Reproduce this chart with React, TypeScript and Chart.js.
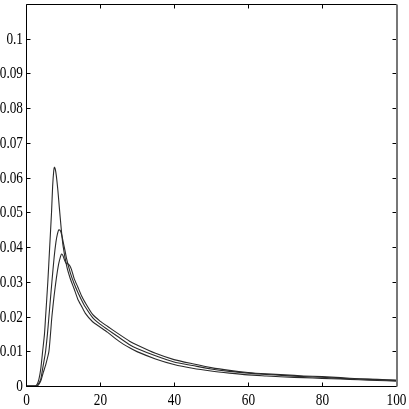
import React, { useEffect, useRef } from "react";
import { Chart, registerables } from "chart.js";

Chart.register(...registerables);

const xA = [0, 2.5, 3, 3.5, 4, 4.5, 5, 5.3, 5.9, 6.4, 6.9, 7.2, 7.5, 7.7, 7.9, 8.2, 8.6, 9, 9.5, 10, 11, 12, 13, 14, 15, 16, 18, 20, 22, 25, 28, 30, 35, 40, 45, 50, 55, 60, 65, 70, 75, 80, 85, 90, 95, 100];
const yA = [0, 0, 0.0005, 0.002, 0.005, 0.01, 0.015, 0.02, 0.03, 0.04, 0.05, 0.0575, 0.062, 0.063, 0.0625, 0.0605, 0.0565, 0.0515, 0.0455, 0.0405, 0.0345, 0.0308, 0.028, 0.025, 0.023, 0.021, 0.0185, 0.017, 0.0155, 0.013, 0.011, 0.0099, 0.0078, 0.0062, 0.0051, 0.0043, 0.0037, 0.0032, 0.0029, 0.0026, 0.0024, 0.0022, 0.002, 0.0018, 0.0016, 0.0014];

const xB = [0, 2.8, 3.3, 4, 4.5, 5, 5.3, 5.8, 6.2, 7, 7.6, 8.1, 8.5, 8.9, 9.3, 9.7, 10.1, 10.5, 11, 12, 13, 14, 15, 16, 18, 20, 22, 25, 28, 30, 35, 40, 45, 50, 55, 60, 65, 70, 75, 80, 85, 90, 95, 100];
const yB = [0, 0, 0.0005, 0.002, 0.005, 0.008, 0.01, 0.015, 0.02, 0.03, 0.037, 0.0415, 0.0438, 0.045, 0.0447, 0.0433, 0.0412, 0.0392, 0.0365, 0.0325, 0.0295, 0.027, 0.0248, 0.0228, 0.0197, 0.0178, 0.0163, 0.0141, 0.0119, 0.0108, 0.0087, 0.0069, 0.0059, 0.0049, 0.0042, 0.0037, 0.0033, 0.003, 0.0027, 0.0025, 0.0022, 0.002, 0.0018, 0.0016];

const xC = [0, 3, 3.5, 4, 4.7, 5.3, 6.2, 7, 7.6, 8.2, 8.8, 9.3, 9.6, 10, 10.4, 10.8, 11.3, 11.8, 12.3, 13, 14, 15, 16, 18, 20, 22, 25, 28, 30, 35, 40, 45, 50, 55, 60, 65, 70, 75, 80, 85, 90, 95, 100];
const yC = [0, 0, 0.0005, 0.0015, 0.004, 0.006, 0.01, 0.02, 0.026, 0.031, 0.035, 0.0372, 0.038, 0.0375, 0.0363, 0.0354, 0.0352, 0.0347, 0.0335, 0.031, 0.0285, 0.026, 0.024, 0.0206, 0.0187, 0.0172, 0.015, 0.0129, 0.0118, 0.0094, 0.0076, 0.0064, 0.0053, 0.0045, 0.0039, 0.0035, 0.0032, 0.0029, 0.0027, 0.0024, 0.0021, 0.0019, 0.0017];

const xTicks = [0, 20, 40, 60, 80, 100];
const xTickLabels = ["0", "20", "40", "60", "80", "100"];
const yTicks = [0, 0.01, 0.02, 0.03, 0.04, 0.05, 0.06, 0.07, 0.08, 0.09, 0.1];
const yTickLabels = ["0", "0.01", "0.02", "0.03", "0.04", "0.05", "0.06", "0.07", "0.08", "0.09", "0.1"];

const FONT = "Liberation Serif";

const toPts = (xs: number[], ys: number[]) => xs.map((x, i) => ({ x, y: ys[i] }));

const frame = {
  id: "frame",
  afterDraw(chart: any) {
    const { ctx, chartArea: a, scales } = chart;
    const xs = scales.x;
    const ys = scales.y;
    ctx.save();
    ctx.strokeStyle = "#000";
    ctx.lineWidth = 1;
    const L0 = Math.round(a.left) + 0.5;
    const T0 = Math.round(a.top) + 0.5;
    const R0 = Math.round(a.right) + 0.5;
    const B0 = Math.round(a.bottom) + 0.5;
    ctx.beginPath();
    ctx.moveTo(R0, T0);
    ctx.lineTo(L0, T0);
    ctx.lineTo(L0, B0);
    ctx.lineTo(R0, B0);
    ctx.stroke();
    const L = 4;
    ctx.beginPath();
    xTicks.forEach((v) => {
      const px = Math.round(xs.getPixelForValue(v)) + 0.5;
      ctx.moveTo(px, B0);
      ctx.lineTo(px, B0 - L);
      ctx.moveTo(px, T0);
      ctx.lineTo(px, T0 + L);
    });
    yTicks.forEach((v) => {
      const py = Math.round(ys.getPixelForValue(v)) + 0.5;
      ctx.moveTo(L0, py);
      ctx.lineTo(L0 + L, py);
      ctx.moveTo(R0, py);
      ctx.lineTo(R0 - L, py);
    });
    ctx.stroke();
    ctx.strokeStyle = "#777";
    ctx.lineWidth = 2;
    ctx.beginPath();
    ctx.moveTo(R0 + 0.5, T0);
    ctx.lineTo(R0 + 0.5, B0);
    ctx.stroke();

    // condensed serif tick labels
    const sx = 0.78;
    ctx.fillStyle = "#000";
    ctx.font = `17px "${FONT}", serif`;
    ctx.textAlign = "right";
    ctx.textBaseline = "middle";
    yTicks.forEach((v, i) => {
      const py = ys.getPixelForValue(v) + 0.5;
      ctx.save();
      ctx.translate(a.left - 3, py);
      ctx.scale(sx, 1);
      ctx.fillText(yTickLabels[i], 0, 0);
      ctx.restore();
    });
    ctx.textAlign = "center";
    ctx.textBaseline = "alphabetic";
    xTicks.forEach((v, i) => {
      const px = xs.getPixelForValue(v) + 0.5;
      ctx.save();
      ctx.translate(px, a.bottom + 19);
      ctx.scale(sx, 1);
      ctx.fillText(xTickLabels[i], 0, 0);
      ctx.restore();
    });
    ctx.restore();
  },
};

export default function App() {
  const ref = useRef<HTMLCanvasElement>(null);
  useEffect(() => {
    let chart: any = null;
    let dead = false;
    const make = () => {
      if (dead || !ref.current) return;
      const line = (xs: number[], ys: number[]) => ({
        data: toPts(xs, ys),
        borderColor: "#2a2a2a",
        borderWidth: 1.1,
        pointRadius: 0,
        tension: 0.2,
        fill: false,
      });
      chart = new Chart(ref.current, {
        type: "line",
        data: { datasets: [line(xA, yA), line(xB, yB), line(xC, yC)] as any },
        options: {
          animation: false,
          responsive: false,
          maintainAspectRatio: false,
          layout: { padding: { top: 4, right: 13, left: 0, bottom: 0 } },
          plugins: { legend: { display: false }, tooltip: { enabled: false } },
          scales: {
            x: {
              type: "linear",
              min: 0,
              max: 100,
              grid: { display: false, drawTicks: false },
              border: { display: false },
              afterFit: (s: any) => { s.height = 23; },
              ticks: { display: false, stepSize: 20 },
            },
            y: {
              type: "linear",
              min: 0,
              max: 0.11,
              grid: { display: false, drawTicks: false },
              border: { display: false },
              afterFit: (s: any) => { s.width = 26; },
              ticks: { display: false, stepSize: 0.01 },
            },
          },
        },
        plugins: [frame],
      });
    };
    const fl = (document as any).fonts;
    if (fl && fl.load) {
      fl.load(`17px "${FONT}"`).then(make, make);
    } else {
      make();
    }
    return () => {
      dead = true;
      if (chart) chart.destroy();
    };
  }, []);
  return (
    <div style={{ position: "absolute", left: 0, top: 0, width: 409, height: 409, background: "#fff" }}>
      <canvas ref={ref} width={409} height={409} style={{ width: 409, height: 409 }} />
    </div>
  );
}
